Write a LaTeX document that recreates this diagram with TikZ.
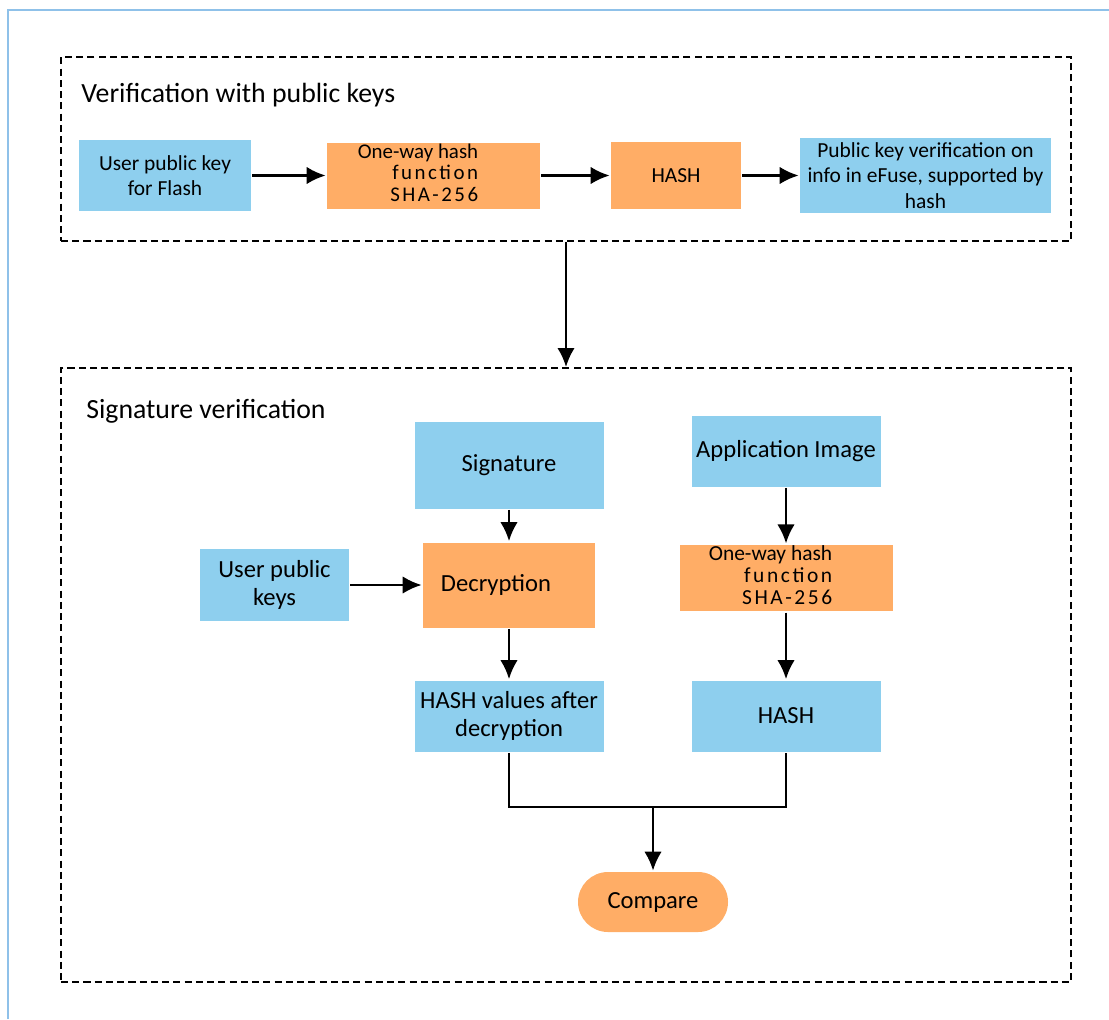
\documentclass[tikz,border=0pt]{standalone}
\usepackage{fontspec}
\setmainfont{Carlito}
\usepackage{xcolor}
\usepackage{tikz}
\usetikzlibrary{positioning,calc}
\usetikzlibrary{arrows.meta,arrows}
\definecolor{skyBlue}{HTML}{8ECFEE}
\definecolor{softOrange}{HTML}{FFAD66}
\definecolor{frameBlue}{HTML}{8FC1E9}
\newcommand{\spaced}[1]{{\addfontfeature{LetterSpace=12}#1}}
\newcommand{\hashText}{\begin{tabular}{@{}r@{}}One-way hash\\\spaced{function}\\\spaced{SHA-256}\end{tabular}\hspace*{0.62cm}}
\tikzstyle{boxBlue}  =[rectangle,fill=skyBlue,align=center,inner sep=1pt]
\tikzstyle{boxOrange}=[rectangle,fill=softOrange,align=center,inner sep=1pt]
\tikzstyle{dashBox}  =[rectangle,draw,dash pattern=on 4pt off 2.4pt,line width=1.1pt]
\tikzstyle{topText}  =[font=\fontsize{12.2}{14}\selectfont]
\tikzstyle{lowText}  =[font=\fontsize{14}{15.9}\selectfont]
\tikzstyle{titleText}=[font=\fontsize{15.8}{18}\selectfont,anchor=west,inner sep=0pt]

\begin{document}
\begin{tikzpicture}[>={Latex[length=3.8mm,width=3.5mm]},line width=1.5pt,on grid]
      \useasboundingbox (0,0) rectangle (22.18,-20.38);
      \draw[frameBlue,line width=1.7pt] (0.16,-20.38) |- (22.18,-0.20);
      % verification with public keys
      \node[dashBox,minimum width=20.2cm,minimum height=3.68cm] (upper) at (11.32,-2.98) {};
      \node[titleText] (ttl1) at (1.60,-1.90) {Verification with public keys};
      \node[boxBlue,topText,minimum width=3.44cm,minimum height=1.42cm] (key) at (3.30,-3.51) {User public key\\for Flash};
      \node[boxOrange,inner sep=0pt,minimum width=4.26cm,minimum height=1.32cm,font=\fontsize{11.9}{12.4}\selectfont] (sha1) [right = 5.37cm of key] {\hashText};
      \node[boxOrange,topText,minimum width=2.6cm,minimum height=1.34cm] (hash1) [right = 4.85cm of sha1] {HASH};
      \node[boxBlue,font=\fontsize{12.2}{14.5}\selectfont,minimum width=5.02cm,minimum height=1.5cm] (verify) [right = 4.99cm of hash1] {Public key verification on\\info in eFuse, supported by\\hash};
      \draw[->] (key) -- (sha1);
      \draw[->] (sha1) -- (hash1);
      \draw[->] (hash1) -- (verify);
      % signature verification
      \node[dashBox,minimum width=20.2cm,minimum height=12.28cm] (lower) at (11.32,-13.50) {};
      \node[titleText] (ttl2) at (1.70,-8.22) {Signature verification};
      \draw[->] (upper) -- (lower);
      \node[boxBlue,lowText,minimum width=2.98cm,minimum height=1.44cm] (upk) at (5.49,-11.70) {User public\\keys};
      \node[boxOrange,lowText,minimum width=3.44cm,minimum height=1.7cm] (dec) [right = 4.69cm of upk] {Decryption\hspace*{0.52cm}};
      \node[boxBlue,lowText,minimum width=3.78cm,minimum height=1.74cm] (sig) [above = 2.40cm of dec] {Signature};
      \node[boxBlue,lowText,minimum width=3.78cm,minimum height=1.42cm] (hv) [below = 2.62cm of dec] {HASH values after\\decryption};
      \node[boxBlue,lowText,minimum width=3.78cm,minimum height=1.42cm] (hash2) [right = 5.54cm of hv] {HASH};
      \node[boxOrange,inner sep=0pt,minimum width=4.26cm,minimum height=1.3cm,font=\fontsize{12.2}{12.6}\selectfont] (sha2) [above = 2.76cm of hash2] {\hashText};
      \node[boxBlue,lowText,minimum width=3.78cm,minimum height=1.42cm] (app) [above = 2.54cm of sha2] {Application Image};
      \node[boxOrange,lowText,minimum width=3.0cm,minimum height=1.2cm,rounded corners=0.6cm] (cmp) at (13.06,-18.04) {Compare};
      \coordinate (join) at (13.08,-16.14);
      \draw[->] (sig) -- (dec);
      \draw[->] (upk) -- (dec);
      \draw[->] (dec) -- (hv);
      \draw[->] (app) -- (sha2);
      \draw[->] (sha2) -- (hash2);
      \draw (hv.south) |- (join) -| (hash2.south);
      \draw[->] (cmp |- join) -- (cmp);
    \end{tikzpicture}
\end{document}
